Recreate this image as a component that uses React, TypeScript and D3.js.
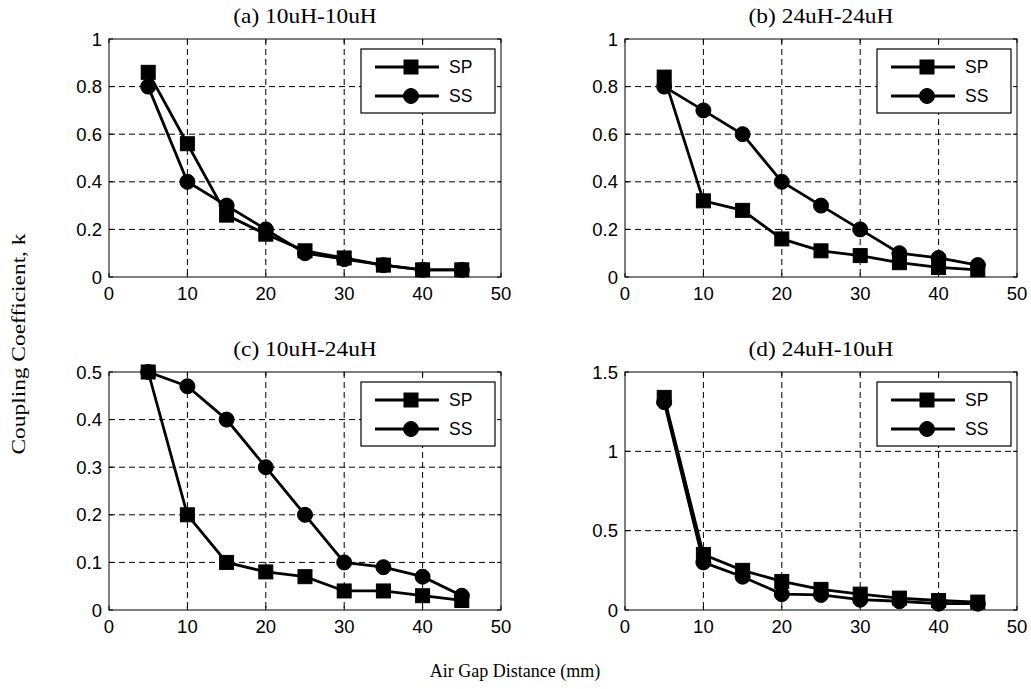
import React from "react";
import * as d3 from "d3";

const WIDTH = 1031;
const HEIGHT = 689;

// air gap distance (mm)
const gaps = [5, 10, 15, 20, 25, 30, 35, 40, 45];

// coupling coefficient
const spA = [0.86, 0.56, 0.26, 0.18, 0.11, 0.08, 0.05, 0.03, 0.03];
const ssA = [0.8, 0.4, 0.3, 0.2, 0.1, 0.075, 0.05, 0.03, 0.03];
const spB = [0.84, 0.32, 0.28, 0.16, 0.11, 0.09, 0.06, 0.04, 0.03];
const ssB = [0.8, 0.7, 0.6, 0.4, 0.3, 0.2, 0.1, 0.08, 0.05];
const spC = [0.5, 0.2, 0.1, 0.08, 0.07, 0.04, 0.04, 0.03, 0.02];
const ssC = [0.5, 0.47, 0.4, 0.3, 0.2, 0.1, 0.09, 0.07, 0.03];
const spD = [1.34, 0.35, 0.25, 0.18, 0.13, 0.1, 0.075, 0.06, 0.05];
const ssD = [1.31, 0.3, 0.21, 0.1, 0.095, 0.065, 0.055, 0.04, 0.04];

const titles = ["(a) 10uH-10uH", "(b) 24uH-24uH", "(c) 10uH-24uH", "(d) 24uH-10uH"];
const seriesNames = ["SP", "SS"];
const xTicks = [0, 10, 20, 30, 40, 50];
const yTicksA = [0, 0.2, 0.4, 0.6, 0.8, 1];
const yTicksB = [0, 0.2, 0.4, 0.6, 0.8, 1];
const yTicksC = [0, 0.1, 0.2, 0.3, 0.4, 0.5];
const yTicksD = [0, 0.5, 1, 1.5];

const panels = [
  { title: titles[0], sp: spA, ss: ssA, yTicks: yTicksA, left: 109, top: 39 },
  { title: titles[1], sp: spB, ss: ssB, yTicks: yTicksB, left: 625, top: 39 },
  { title: titles[2], sp: spC, ss: ssC, yTicks: yTicksC, left: 109, top: 372 },
  { title: titles[3], sp: spD, ss: ssD, yTicks: yTicksD, left: 625, top: 372 },
];

const PW = 392;
const PH = 238;
const SANS = "'Liberation Sans', Arial, sans-serif";
const SERIF = "'Liberation Serif', 'Times New Roman', serif";

function Marker({ kind, x, y }) {
  if (kind === "SP") {
    return <rect x={x - 7} y={y - 7} width={14} height={14} fill="black" stroke="black" strokeWidth={1} />;
  }
  return <circle cx={x} cy={y} r={7.5} fill="black" stroke="black" strokeWidth={1} />;
}

function Panel({ p }) {
  const x = d3.scaleLinear().domain([0, 50]).range([0, PW]);
  const yMax = p.yTicks[p.yTicks.length - 1];
  const y = d3.scaleLinear().domain([0, yMax]).range([PH, 0]);
  const line = d3
    .line<number>()
    .x((d, i) => x(gaps[i]))
    .y((d) => y(d));

  const series = [
    { name: "SP", values: p.sp },
    { name: "SS", values: p.ss },
  ];

  const lx = PW - 6 - 134;
  const ly = 10;

  return (
    <g transform={`translate(${p.left},${p.top})`}>
      <text
        transform={`translate(${PW / 2},-16) scale(1.17,1)`}
        textAnchor="middle"
        fontFamily={SERIF}
        fontSize={20}
      >
        {p.title}
      </text>
      <rect x={0} y={0} width={PW} height={PH} fill="white" />
      {/* grid */}
      {xTicks.slice(1, -1).map((t) => (
        <line key={"gx" + t} x1={x(t)} x2={x(t)} y1={0} y2={PH} stroke="black" strokeWidth={1} strokeDasharray="6,4" />
      ))}
      {p.yTicks.slice(1, -1).map((t) => (
        <line key={"gy" + t} x1={0} x2={PW} y1={y(t)} y2={y(t)} stroke="black" strokeWidth={1} strokeDasharray="6,4" />
      ))}
      {/* inward ticks */}
      {xTicks.map((t) => (
        <g key={"tx" + t}>
          <line x1={x(t)} x2={x(t)} y1={PH} y2={PH - 4} stroke="black" />
          <line x1={x(t)} x2={x(t)} y1={0} y2={4} stroke="black" />
          <text x={x(t)} y={PH + 23} textAnchor="middle" fontFamily={SANS} fontSize={18.5}>
            {t}
          </text>
        </g>
      ))}
      {p.yTicks.map((t) => (
        <g key={"ty" + t}>
          <line x1={0} x2={4} y1={y(t)} y2={y(t)} stroke="black" />
          <line x1={PW} x2={PW - 4} y1={y(t)} y2={y(t)} stroke="black" />
          <text x={-7} y={y(t)} dy="0.36em" textAnchor="end" fontFamily={SANS} fontSize={18.5}>
            {d3.format("~g")(t)}
          </text>
        </g>
      ))}
      <rect x={0} y={0} width={PW} height={PH} fill="none" stroke="black" strokeWidth={1} />
      {/* data */}
      {series.map((s) => (
        <g key={s.name}>
          <path d={line(s.values) || ""} fill="none" stroke="black" strokeWidth={2.8} />
          {s.values.map((v, i) => (
            <Marker key={i} kind={s.name} x={x(gaps[i])} y={y(v)} />
          ))}
        </g>
      ))}
      {/* legend */}
      <g transform={`translate(${lx},${ly})`}>
        <rect x={0} y={0} width={134} height={64} fill="white" stroke="black" strokeWidth={1.2} />
        {seriesNames.map((n, i) => (
          <g key={n} transform={`translate(0,${18 + i * 29})`}>
            <line x1={14} x2={78} y1={0} y2={0} stroke="black" strokeWidth={2.8} />
            <Marker kind={n} x={50} y={0} />
            <text x={88} y={0} dy="0.36em" fontFamily={SANS} fontSize={17.5}>
              {n}
            </text>
          </g>
        ))}
      </g>
    </g>
  );
}

export default function App() {
  return (
    <div style={{ position: "absolute", left: 0, top: 0 }}>
      <svg width={WIDTH} height={HEIGHT} style={{ display: "block", background: "white" }}>
        {panels.map((p) => (
          <Panel key={p.title} p={p} />
        ))}
        <text
          transform="translate(25,344) rotate(-90) scale(1.3,1)"
          textAnchor="middle"
          fontFamily={SERIF}
          fontSize={18}
        >
          Coupling Coefficient, k
        </text>
        <text x={515} y={677} textAnchor="middle" fontFamily={SERIF} fontSize={18}>
          Air Gap Distance (mm)
        </text>
      </svg>
    </div>
  );
}
